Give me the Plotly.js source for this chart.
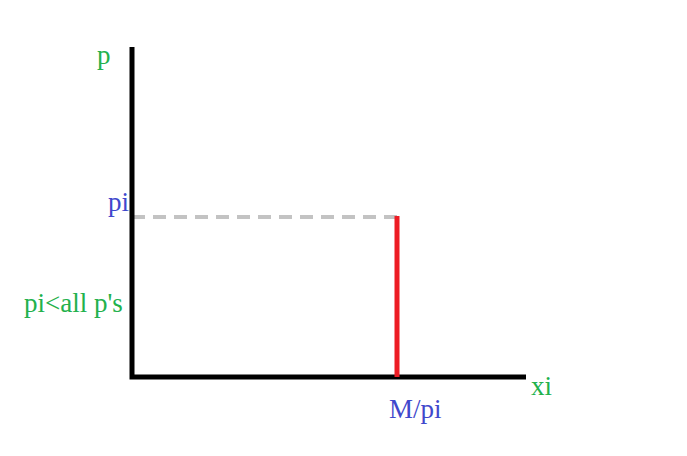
<!DOCTYPE html>
<html><head><meta charset="utf-8">
<script src="https://cdn.plot.ly/plotly-3.0.1.min.js"></script>
<style>html,body{margin:0;padding:0;background:#fff}#c{width:687px;height:456px}</style>
</head><body><div id="c"></div>
<script>
// Diagram coordinates (x to the right, y upward, canvas units)
var axisX = [132, 132, 526];
var axisY = [409, 79, 79];
var demandX = [397, 397];
var demandY = [79, 240];
var priceX = [132, 397];
var priceY = [239, 239];
var labelText = ["p", "pi", "pi<all p's", "xi", "M/pi"];
var labelX = [104, 131, 73, 541, 415];
var labelY = [401, 254, 153, 70, 47];
var labelColor = ["#22b14c", "#3f48cc", "#22b14c", "#22b14c", "#3f48cc"];
var labelAnchor = ["center", "right", "center", "center", "center"];

var traces = [
  {x: priceX, y: priceY, mode: "lines", line: {color: "#c3c3c3", width: 4, dash: "13px,8px"}, hoverinfo: "skip"},
  {x: axisX, y: axisY, mode: "lines", line: {color: "#000000", width: 5}, hoverinfo: "skip"},
  {x: demandX, y: demandY, mode: "lines", line: {color: "#ed1c24", width: 5}, hoverinfo: "skip"}
];
var ann = labelText.map(function(t, i){
  return {x: labelX[i], y: labelY[i], text: t, showarrow: false, xanchor: labelAnchor[i], yanchor: "middle",
    font: {family: "Liberation Serif, serif", size: 27, color: labelColor[i]}};
});
var layout = {
  width: 687, height: 456, margin: {l:0, r:0, t:0, b:0},
  paper_bgcolor: "#fff", plot_bgcolor: "#fff", showlegend: false,
  xaxis: {range: [0, 687], visible: false, fixedrange: true},
  yaxis: {range: [0, 456], visible: false, fixedrange: true},
  annotations: ann
};
Plotly.newPlot("c", traces, layout, {displayModeBar: false, staticPlot: true});
</script></body></html>
